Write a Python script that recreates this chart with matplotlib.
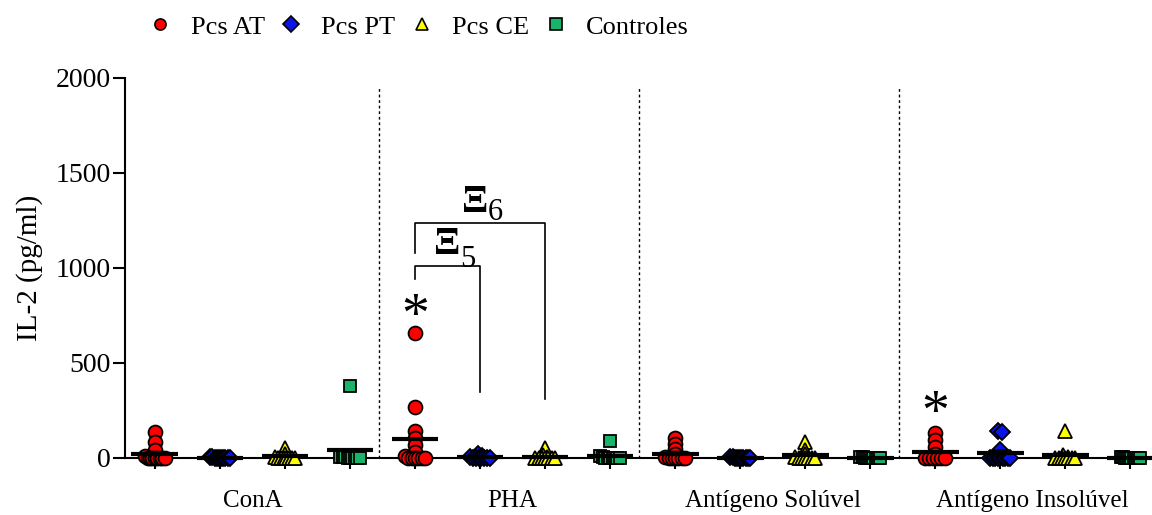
import numpy as np
import matplotlib
matplotlib.use("Agg")
import matplotlib.pyplot as plt
from matplotlib.lines import Line2D

plt.rcParams['font.family'] = ['Liberation Serif', 'DejaVu Serif']

stimuli = ["ConA", "PHA", "Antígeno Solúvel", "Antígeno Insolúvel"]
series = ["Pcs AT", "Pcs PT", "Pcs CE", "Controles"]

# IL-2 (pg/ml) per stimulus, per group
pcs_at = [
    [135, 85, 40, 10, 0, 0, 0, 0, 0, 0, 0, 0],
    [655, 265, 140, 105, 70, 30, 10, 0, 0, 0, 0, 0, 0],
    [105, 75, 45, 20, 5, 0, 0, 0, 0, 0, 0],
    [130, 95, 55, 20, 0, 0, 0, 0, 0, 0],
]
pcs_pt = [
    [5, 3, 0, 0, 0, 0, 0, 0, 0, 0],
    [20, 10, 5, 0, 0, 0, 0, 0, 0, 0],
    [5, 2, 0, 0, 0, 0, 0, 0, 0, 0],
    [140, 135, 40, 0, 0, 0, 0, 0, 0, 0, 0, 0],
]
pcs_ce = [
    [50, 20, 5, 0, 0, 0, 0, 0, 0, 0],
    [50, 15, 5, 0, 0, 0, 0, 0, 0, 0],
    [85, 40, 20, 5, 0, 0, 0, 0, 0, 0],
    [140, 15, 5, 0, 0, 0, 0, 0, 0, 0],
]
controles = [
    [380, 5, 5, 3, 0, 0, 0, 0, 0, 0],
    [90, 10, 5, 0, 0, 0, 0, 0, 0, 0],
    [5, 3, 0, 0, 0, 0, 0, 0, 0, 0],
    [5, 3, 0, 0, 0, 0, 0, 0, 0, 0],
]

all_data = [pcs_at, pcs_pt, pcs_ce, controles]
markers = ["o", "D", "^", "s"]
colors = ["#ff0000", "#0a14e6", "#ffff00", "#19b36b"]
msizes = [10, 8.5, 10, 9]

# significance marks
star_pos = [(5, 735), (13, 228)]
# x1, x2, left bottom, bar height, right bottom, label x, label y, sub x, sub y, sub
brackets = [
    (5, 6, 940, 1010, 345, 5.5, 1120, 5.7, 1045, "5"),
    (5, 7, 1080, 1236, 310, 5.93, 1345, 6.12, 1290, "6"),
]


def swarm(vals, width=0.3, tol=15):
    vals = np.sort(np.asarray(vals, dtype=float))[::-1]
    offs = np.zeros(len(vals))
    i = 0
    while i < len(vals):
        j = i
        while j + 1 < len(vals) and abs(vals[j + 1] - vals[i]) < tol:
            j += 1
        n = j - i + 1
        if n > 1:
            spread = min(width, 0.07 * (n - 1))
            offs[i:j + 1] = np.linspace(-spread / 2, spread / 2, n)
        i = j + 1
    return vals, offs


fig = plt.figure(figsize=(11.52, 5.15), dpi=100)
ax = fig.add_axes([0.1085, 0.111, 0.889, 0.738])

for s, data in enumerate(all_data):
    for g, vals in enumerate(data):
        pos = g * 4 + s + 1
        v, o = swarm(vals)
        ax.plot(pos + o, v, linestyle="none", marker=markers[s], ms=msizes[s],
                mfc=colors[s], mec="black", mew=1.3, clip_on=False, zorder=3)
        ax.hlines(np.mean(vals), pos - 0.36, pos + 0.36, color="black",
                  lw=3, zorder=4, clip_on=False)

for xd in [4.44, 8.44, 12.44]:
    ax.axvline(xd, ymax=0.975, color="black", ls=(0, (2, 2)), lw=1)

for x, y in star_pos:
    ax.text(x, y, "*", ha="center", va="center", fontsize=40)

for x1, x2, ylo, y, yend, lx, ly, sx, sy, sub in brackets:
    ax.plot([x1, x1, x2, x2], [ylo, y, y, yend], color="black", lw=1.2)
    ax.text(lx, ly, "Ξ", ha="center", va="center", fontsize=28,
            fontweight="bold")
    ax.text(sx, sy, sub, ha="left", va="center", fontsize=22)

ax.set_xlim(0.54, 16.29)
ax.set_ylim(0, 2000)
ax.set_yticks([0, 500, 1000, 1500, 2000])
ax.set_xticks(np.arange(1, 17))
ax.set_xticklabels([])
ax.set_xticks([2.5, 6.5, 10.5, 14.5], minor=True)
ax.set_xticklabels(stimuli, minor=True, fontsize=18)
ax.tick_params(axis="x", which="major", length=8, width=1.5, direction="out")
ax.tick_params(axis="x", which="minor", length=0, pad=23)
ax.tick_params(axis="y", length=9, width=1.5, labelsize=20, pad=1)
for side in ["top", "right"]:
    ax.spines[side].set_visible(False)
ax.spines["left"].set_linewidth(1.5)
ax.spines["bottom"].set_linewidth(1.5)
ax.set_ylabel("IL-2 (pg/ml)", fontsize=21, labelpad=9)

handles = [Line2D([], [], linestyle="none", marker=markers[i], ms=8,
                  mfc=colors[i], mec="black", mew=1.2) for i in range(4)]
fig.legend(handles, series, loc="center left", bbox_to_anchor=(0.1276, 0.9476),
           ncol=4, frameon=False, fontsize=19, handletextpad=0.65,
           columnspacing=0.5, handlelength=1, borderpad=0, borderaxespad=0)

fig.savefig("out.png", dpi=100)
